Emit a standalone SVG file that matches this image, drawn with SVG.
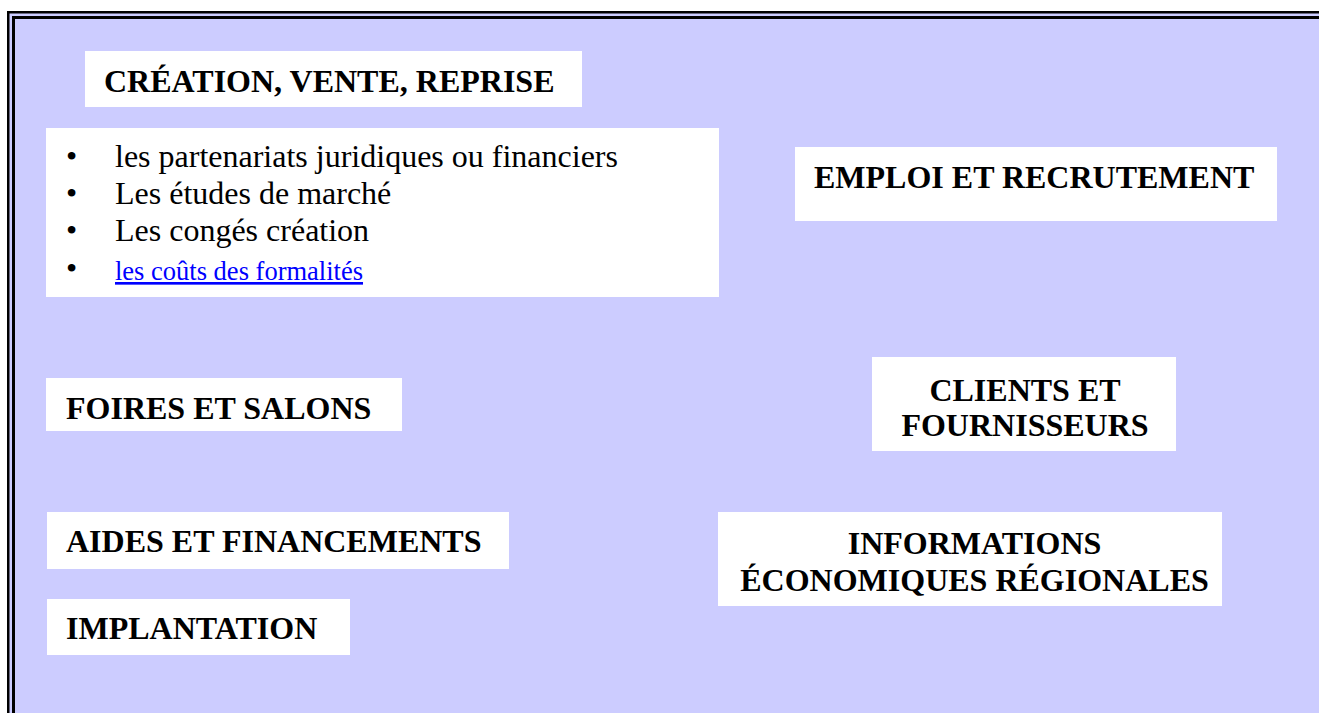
<svg xmlns="http://www.w3.org/2000/svg" width="1319" height="713" viewBox="0 0 1319 713">
  <style>
    .panel { fill: #CCCCFF; }
    .rule { fill: #000000; }
    .box { fill: #FFFFFF; }
    .head { font-family: "Liberation Serif", "Times New Roman", serif; font-weight: bold; font-size: 32px; fill: #000000; }
    .item { font-family: "Liberation Serif", "Times New Roman", serif; font-size: 32px; fill: #000000; }
    .link { font-family: "Liberation Serif", "Times New Roman", serif; font-size: 26.5px; fill: #0000FF; text-decoration: underline; }
  </style>

  <!-- page background and framed panel -->
  <rect x="0" y="0" width="1319" height="713" fill="#FFFFFF"/>
  <rect class="panel" x="7" y="11" width="1312" height="702"/>
  <!-- double border, top and left -->
  <rect class="rule" x="7" y="11" width="2.5" height="702"/>
  <rect class="rule" x="7" y="11" width="1312" height="2.5"/>
  <rect class="rule" x="12" y="16" width="3" height="697"/>
  <rect class="rule" x="12" y="16" width="1307" height="3"/>

  <g id="connectors"></g>

  <g id="creation">
    <rect class="box" x="85" y="51" width="497" height="56"/>
    <text class="head" x="104" y="92">CRÉATION, VENTE, REPRISE</text>
  </g>

  <g id="creation-topics">
    <rect class="box" x="46" y="128" width="673" height="169"/>
    <text class="item" x="66" y="167">•</text>
    <text class="item" x="115" y="167">les partenariats juridiques ou financiers</text>
    <text class="item" x="66" y="204">•</text>
    <text class="item" x="115" y="204">Les études de marché</text>
    <text class="item" x="66" y="241">•</text>
    <text class="item" x="115" y="241">Les congés création</text>
    <text class="item" x="66" y="279">•</text>
    <text class="link" x="115" y="280">les coûts des formalités</text>
  </g>

  <g id="emploi">
    <rect class="box" x="795" y="147" width="482" height="74"/>
    <text class="head" x="814" y="188">EMPLOI ET RECRUTEMENT</text>
  </g>

  <g id="foires">
    <rect class="box" x="46" y="378" width="356" height="53"/>
    <text class="head" x="66" y="419">FOIRES ET SALONS</text>
  </g>

  <g id="clients">
    <rect class="box" x="872" y="357" width="304" height="94"/>
    <text class="head" x="1025" y="401" text-anchor="middle">CLIENTS ET</text>
    <text class="head" x="1025" y="436" text-anchor="middle">FOURNISSEURS</text>
  </g>

  <g id="aides">
    <rect class="box" x="47" y="512" width="462" height="57"/>
    <text class="head" x="66" y="552">AIDES ET FINANCEMENTS</text>
  </g>

  <g id="informations">
    <rect class="box" x="718" y="512" width="504" height="94"/>
    <text class="head" x="974.5" y="554" text-anchor="middle">INFORMATIONS</text>
    <text class="head" x="974.5" y="591" text-anchor="middle">ÉCONOMIQUES RÉGIONALES</text>
  </g>

  <g id="implantation">
    <rect class="box" x="47" y="599" width="303" height="56"/>
    <text class="head" x="66" y="639">IMPLANTATION</text>
  </g>
</svg>
